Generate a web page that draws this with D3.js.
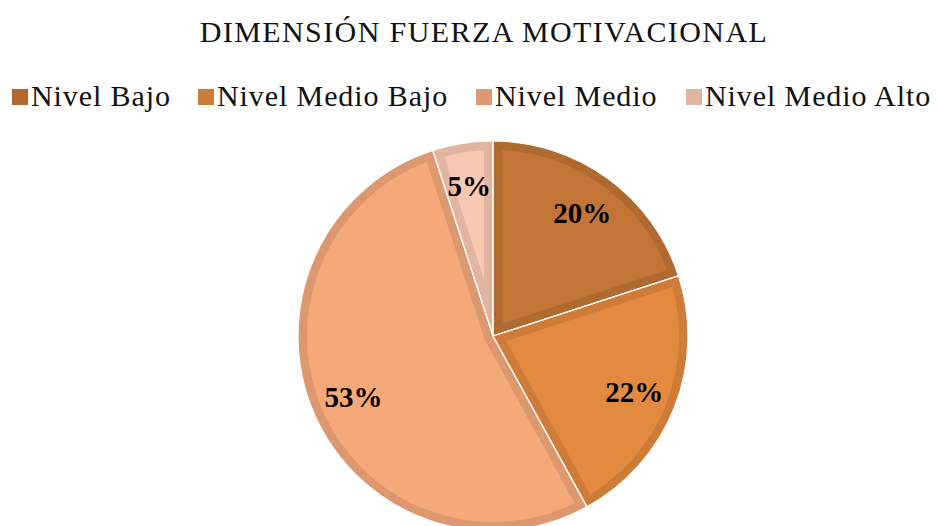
<!DOCTYPE html>
<html>
<head>
<meta charset="utf-8">
<script src="https://cdn.jsdelivr.net/npm/d3@7"></script>
<style>
  body { margin: 0; background: #fff; }
  svg { display: block; }
  text { font-family: "Liberation Serif", "Times New Roman", serif; }
</style>
</head>
<body>
<svg id="chart" width="938" height="526"></svg>
<script>
// chart data
const categories = ["Nivel Bajo", "Nivel Medio Bajo", "Nivel Medio", "Nivel Medio Alto"];
const values = [20, 22, 53, 5];
const labels = ["20%", "22%", "53%", "5%"];
const fills = ["#c27536", "#e48a40", "#f5a878", "#f9c8b1"];
const borders = ["#b06a2f", "#d07c39", "#de9870", "#e2b5a1"];

const svg = d3.select("#chart");

const cx = 493, cy = 336, radius = 195;

// title
svg.append("text")
    .attr("x", 484)
    .attr("y", 42)
    .attr("text-anchor", "middle")
    .attr("font-size", 30)
    .attr("letter-spacing", 1.4)
    .attr("fill", "#111")
    .text("DIMENSIÓN FUERZA MOTIVACIONAL");

// legend
const legendX = [12, 198, 476, 686];
const legend = svg.append("g");
categories.forEach((c, i) => {
    legend.append("rect")
        .attr("x", legendX[i])
        .attr("y", 89)
        .attr("width", 16)
        .attr("height", 16)
        .attr("fill", borders[i]);
    legend.append("text")
        .attr("x", legendX[i] + 19)
        .attr("y", 106)
        .attr("font-size", 30)
        .attr("letter-spacing", 0.9)
        .attr("fill", "#111")
        .text(c);
});

// pie
const pie = d3.pie().sort(null).value(d => d);
const arcs = pie(values);
const arc = d3.arc().innerRadius(0).outerRadius(radius);
const labelArc = d3.arc().innerRadius(152).outerRadius(152);

const g = svg.append("g").attr("transform", `translate(${cx},${cy})`);
const defs = svg.append("defs");

arcs.forEach((a, i) => {
    defs.append("clipPath")
        .attr("id", "clip" + i)
        .append("path")
        .attr("d", arc(a));
});

// slices with inner border (stroke clipped to the slice)
g.selectAll("path.slice")
    .data(arcs)
    .enter()
    .append("path")
    .attr("class", "slice")
    .attr("d", arc)
    .attr("fill", (d, i) => fills[i])
    .attr("stroke", (d, i) => borders[i])
    .attr("stroke-width", 18)
    .attr("clip-path", (d, i) => `url(#clip${i})`);

// thin white separators
g.selectAll("path.sep")
    .data(arcs)
    .enter()
    .append("path")
    .attr("class", "sep")
    .attr("d", arc)
    .attr("fill", "none")
    .attr("stroke", "#fff")
    .attr("stroke-width", 1.2);

g.selectAll("text.lbl")
    .data(arcs)
    .enter()
    .append("text")
    .attr("class", "lbl")
    .attr("transform", d => `translate(${labelArc.centroid(d)})`)
    .attr("text-anchor", "middle")
    .attr("dy", "0.35em")
    .attr("font-size", 29)
    .attr("font-weight", "bold")
    .attr("fill", "#000")
    .text((d, i) => labels[i]);
</script>
</body>
</html>
